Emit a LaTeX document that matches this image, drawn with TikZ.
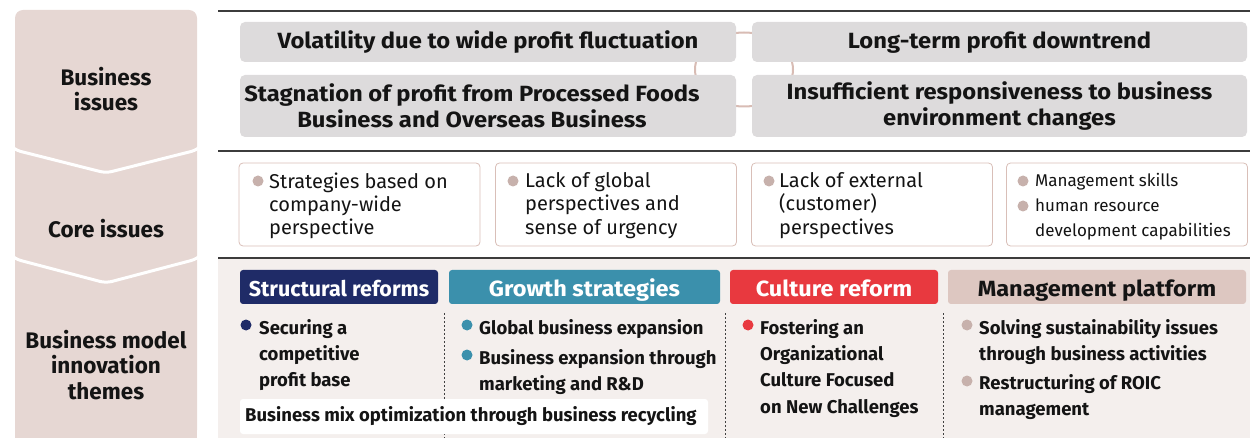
\documentclass[tikz,border=0pt]{standalone}
\usepackage{fontspec}
\setmainfont{Fira Sans}
\definecolor{sidefill}{HTML}{E6D7D3}
\definecolor{issuegray}{HTML}{DDDBDC}
\definecolor{ringcol}{HTML}{D8BCB4}
\definecolor{coreedge}{HTML}{D9BFB8}
\definecolor{coredot}{HTML}{C7B1AC}
\definecolor{themebg}{HTML}{F4EFED}
\definecolor{navyc}{HTML}{1F2B67}
\definecolor{tealc}{HTML}{3B90AC}
\definecolor{redc}{HTML}{E8393F}
\definecolor{mgmtc}{HTML}{DDC7C1}
\definecolor{rulec}{HTML}{3C3C3C}
\definecolor{inkc}{HTML}{141414}
\newcommand{\issuefont}{\bfseries\fontsize{22}{26}\selectfont\addfontfeature{FakeStretch=1.08}}
\newcommand{\headfont}{\bfseries\fontsize{22}{24}\selectfont\addfontfeature{FakeStretch=1.07}}
\newcommand{\headfontnarrow}{\bfseries\fontsize{21.5}{24}\selectfont}
\begin{document}
\begin{tikzpicture}[x=1pt,y=-1pt,
  every node/.style={text=inkc},
  sidelabel/.style={font=\bfseries\fontsize{22.5}{25.5}\selectfont, align=center},
  issuebox/.style={fill=issuegray, rounded corners=5pt, inner sep=0pt,
    font=\issuefont, align=center},
  oneline/.style={text height=16pt, text depth=2pt},
  corebox/.style={fill=white, draw=coreedge, line width=0.8pt, rounded corners=4pt,
    inner sep=0pt, minimum width=241pt, minimum height=83pt},
  coretext/.style={anchor=north west, inner sep=0pt, align=left,
    font=\fontsize{20}{23.3}\selectfont},
  coresmall/.style={anchor=north west, inner sep=0pt, align=left,
    font=\fontsize{17}{25}\selectfont},
  dot/.style={circle, inner sep=0pt, minimum size=11pt},
  header/.style={rounded corners=3pt, inner sep=0pt, minimum height=34pt,
    text height=21pt, text depth=1pt, font=\headfont, text=white},
  themetext/.style={anchor=north west, inner sep=0pt, align=left,
    font=\bfseries\fontsize{18.5}{26.3}\selectfont},
  sepline/.style={draw=rulec, line width=1.4pt},
  dashsep/.style={draw=black!75, line width=0.8pt, dash pattern=on 2pt off 2pt}]
\useasboundingbox (0,0) rectangle (1250,438);

% left-hand column with chevron separators
\fill[sidefill, rounded corners=8pt] (15,10) rectangle (197,438);
\fill[sidefill] (15,420) rectangle (197,438);
\draw[white, line width=3pt, rounded corners=6pt] (13,148) -- (15,150) -- (106,173) -- (197,150) -- (199,148);
\draw[white, line width=3pt, rounded corners=6pt] (13,257) -- (15,259) -- (106,283) -- (197,259) -- (199,257);
\node[sidelabel] (lab1) at (106,89) {Business\\issues};
\node[sidelabel] (lab2) at (106,229) {Core issues};
\node[sidelabel] (lab3) at (106,365) {Business model\\innovation\\themes};

% horizontal rules and theme background
\fill[themebg] (218,258) rectangle (1250,438);
\draw[sepline] (218,11) -- (1250,11);
\draw[sepline] (218,151) -- (1250,151);
\draw[sepline] (218,258) -- (1250,258);

% ring linking the four business issues
\draw[ringcol, line width=2pt] (744,69.5) ellipse [x radius=49, y radius=37];

% business issues
\node[issuebox, oneline, minimum width=496pt, minimum height=40pt] (i1) at (488,42) {Volatility due to wide profit fluctuation};
\node[issuebox, oneline, minimum width=495pt, minimum height=40pt] (i2) at (999.5,42) {Long-term profit downtrend};
\node[issuebox, minimum width=496pt, minimum height=62pt] (i3) at (488,106) {};
\node[font=\issuefont, align=center, inner sep=0pt] (i3t) at (472,106) {Stagnation of profit from Processed Foods\\Business and Overseas Business};
\node[issuebox, minimum width=495pt, minimum height=62pt] (i4) at (999.5,106) {Insufficient responsiveness to business\\environment changes};

% core issues
\node[corebox] (c1) at (359.5,204.5) {};
\node[corebox] (c2) at (616,204.5) {};
\node[corebox] (c3) at (872,204.5) {};
\node[corebox] (c4) at (1127,204.5) {};
\node[dot, fill=coredot] (c1d) at (258,181) {};
\node[coretext] (c1t) at (269,172.5) {Strategies based on\\company-wide\\perspective};
\node[dot, fill=coredot] (c2d) at (513,181) {};
\node[coretext] (c2t) at (525,172.5) {Lack of global\\perspectives and\\sense of urgency};
\node[dot, fill=coredot] (c3d) at (769,181) {};
\node[coretext] (c3t) at (779,172.5) {Lack of external\\(customer)\\perspectives};
\node[dot, fill=coredot] (c4d) at (1023,181) {};
\node[dot, fill=coredot] (c4e) at (1023,206) {};
\node[coresmall] (c4t) at (1035,173) {Management skills\\human resource\\development capabilities};

% innovation themes: headers
\node[header, fill=navyc, minimum width=198pt, font=\headfontnarrow] (h1) at (339,287) {Structural reforms};
\node[header, fill=tealc, minimum width=271pt] (h2) at (584.5,287) {Growth strategies};
\node[header, fill=redc, minimum width=208pt] (h3) at (834,287) {Culture reform};
\node[header, fill=mgmtc, minimum width=298pt, text=inkc] (h4) at (1097,287) {Management platform};

% column separators
\draw[dashsep] (444,313) -- (444,438);
\draw[dashsep] (725,313) -- (725,438);
\draw[dashsep] (943,313) -- (943,438);

% innovation themes: items
\node[dot, fill=navyc] (s1d) at (246,325) {};
\node[themetext] (s1t) at (259,319) {Securing a\\competitive\\profit base};
\node[dot, fill=tealc] (g1d) at (467,325) {};
\node[themetext] (g1t) at (479,319) {Global business expansion};
\node[dot, fill=tealc] (g2d) at (467,355) {};
\node[themetext] (g2t) at (479,349) {Business expansion through\\marketing and R\&D};
\node[dot, fill=redc] (r1d) at (748,325) {};
\node[themetext] (r1t) at (760,319) {Fostering an\\Organizational\\Culture Focused\\on New Challenges};
\node[dot, fill=coredot] (m1d) at (967,325) {};
\node[themetext] (m1t) at (979,319) {Solving sustainability issues\\through business activities};
\node[dot, fill=coredot] (m2d) at (967,381) {};
\node[themetext] (m2t) at (979,374) {Restructuring of ROIC\\management};

% business recycling banner
\node[fill=white, rounded corners=3pt, minimum width=468pt, minimum height=35pt, inner sep=0pt] (mix) at (474,416.5) {};
\node[anchor=west, inner sep=0pt, font=\bfseries\fontsize{18.5}{22}\selectfont] (mixt) at (245,416.5) {Business mix optimization through business recycling};
\end{tikzpicture}
\end{document}
